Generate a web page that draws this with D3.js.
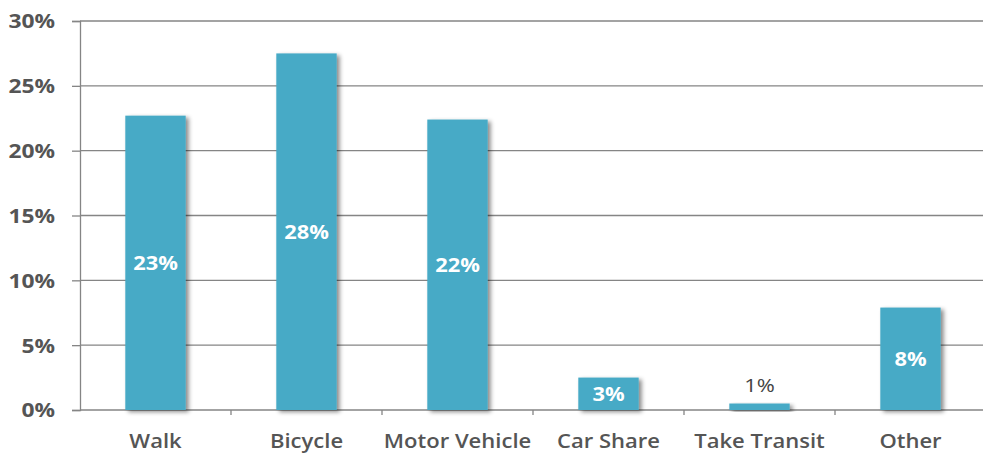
<!DOCTYPE html>
<html>
<head>
<meta charset="utf-8">
<script src="https://cdn.jsdelivr.net/npm/d3@7"></script>
<style>
  html, body { margin: 0; padding: 0; background: #fff; }
  svg { display: block; }
  text { font-family: "Open Sans", sans-serif; }
</style>
</head>
<body>
<svg id="chart" width="983" height="454"></svg>
<script>
// Share of trips by travel mode (percent)
const categories = ["Walk", "Bicycle", "Motor Vehicle", "Car Share", "Take Transit", "Other"];
const shares = [22.7, 27.5, 22.4, 2.5, 0.5, 7.9];
const yTicks = [0, 5, 10, 15, 20, 25, 30];

const svg = d3.select("#chart");
const W = 983, H = 454;
const plotLeft = 80, plotRight = 986, plotTop = 21, plotBottom = 410;

const x = d3.scaleBand()
  .domain(categories)
  .range([plotLeft, plotRight])
  .paddingInner(0.6)
  .paddingOuter(0.3);

const y = d3.scaleLinear().domain([0, 30]).range([plotBottom, plotTop]);

// soft drop shadow under each column
const defs = svg.append("defs");
const f = defs.append("filter").attr("id", "shadow")
  .attr("x", "-20%").attr("y", "-20%").attr("width", "150%").attr("height", "150%");
f.append("feDropShadow")
  .attr("dx", 3).attr("dy", 2).attr("stdDeviation", 2)
  .attr("flood-color", "#000").attr("flood-opacity", 0.45);

const axisColor = "#858585";
const labelColor = "#555555";

// horizontal gridlines
svg.append("g").selectAll("line")
  .data(yTicks)
  .join("line")
  .attr("x1", plotLeft).attr("x2", W)
  .attr("y1", d => y(d)).attr("y2", d => y(d))
  .attr("stroke", axisColor).attr("stroke-width", 1.3);

// y axis with percent labels
const yAxis = svg.append("g")
  .attr("transform", `translate(${plotLeft},0)`)
  .call(d3.axisLeft(y).tickValues(yTicks).tickSize(8).tickPadding(0).tickFormat(d => d + "%"));
yAxis.select(".domain").attr("stroke", axisColor).attr("stroke-width", 1.3);
yAxis.selectAll(".tick line").attr("stroke", axisColor).attr("stroke-width", 1.3);
yAxis.selectAll(".tick text").remove();
yAxis.selectAll(".tick").append("text")
  .attr("transform", "translate(-25,0) scale(1.2,1)")
  .attr("text-anchor", "end")
  .attr("dy", "0.36em")
  .attr("fill", labelColor)
  .attr("font-size", 19)
  .attr("font-weight", 700)
  .text(d => d + "%");

// category boundary ticks below the baseline
const step = x.step();
const start = x(categories[0]) - x.paddingOuter() * step;
svg.append("g").selectAll("line")
  .data(d3.range(1, categories.length))
  .join("line")
  .attr("x1", i => start + i * step).attr("x2", i => start + i * step)
  .attr("y1", plotBottom).attr("y2", plotBottom + 5)
  .attr("stroke", axisColor).attr("stroke-width", 1.3);

// columns
svg.append("g").selectAll("rect")
  .data(categories)
  .join("rect")
  .attr("x", d => x(d))
  .attr("width", x.bandwidth())
  .attr("y", (d, i) => y(shares[i]))
  .attr("height", (d, i) => y(0) - y(shares[i]))
  .attr("fill", "#46aac6")
  .attr("filter", "url(#shadow)");

// value labels: inside tall columns, above the very short one
const fmt = v => d3.format(".0f")(v) + "%";
const inside = i => y(0) - y(shares[i]) > 24;
svg.append("g").selectAll("text")
  .data(categories)
  .join("text")
  .attr("transform", (d, i) => {
    const cx = x(d) + x.bandwidth() / 2;
    const cy = inside(i) ? (y(shares[i]) + y(0)) / 2 : y(shares[i]) - 18;
    return `translate(${cx},${cy}) scale(1.15,1)`;
  })
  .attr("text-anchor", "middle")
  .attr("dy", "0.36em")
  .attr("font-size", 19)
  .attr("font-weight", (d, i) => (inside(i) ? 700 : 400))
  .attr("fill", (d, i) => (inside(i) ? "#ffffff" : "#444444"))
  .text((d, i) => fmt(shares[i]));

// category names
svg.append("g").selectAll("text")
  .data(categories)
  .join("text")
  .attr("transform", d => `translate(${x(d) + x.bandwidth() / 2},448) scale(1.13,1)`)
  .attr("text-anchor", "middle")
  .attr("font-size", 19.5)
  .attr("font-weight", 600)
  .attr("fill", labelColor)
  .text(d => d);
</script>
</body>
</html>
